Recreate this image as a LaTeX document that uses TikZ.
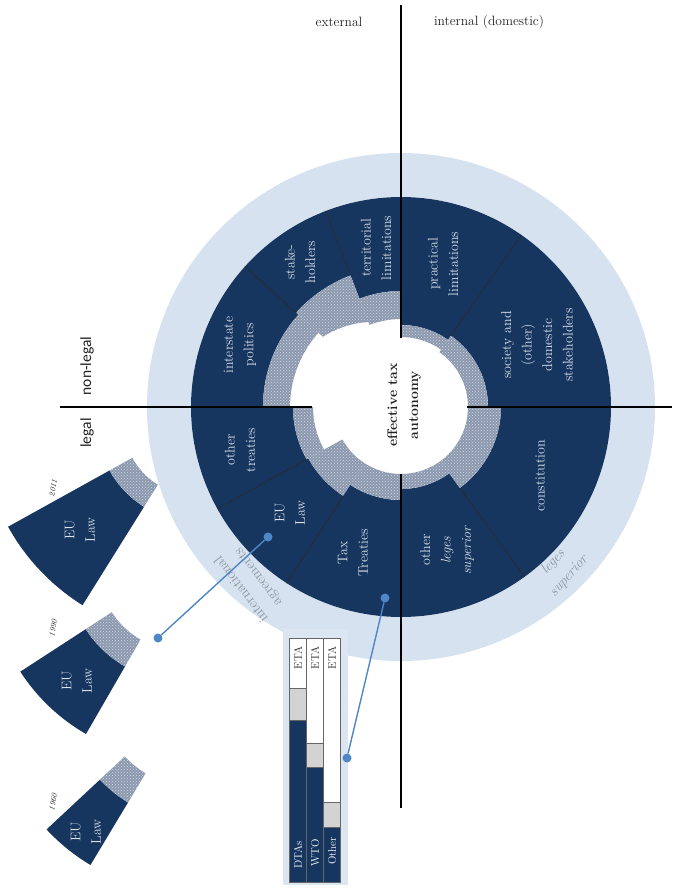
\documentclass[tikz,border=0pt]{standalone}
\usepackage{fontspec}
\newfontfamily\carlito{Carlito}
\usetikzlibrary{patterns}
\definecolor{navy}{HTML}{163660}
\definecolor{ringlight}{HTML}{D6E2F0}
\definecolor{hatchbg}{HTML}{8B98AE}
\definecolor{hatchdot}{HTML}{D2D9E3}
\definecolor{labcol}{HTML}{DCE2EA}
\definecolor{ringtext}{HTML}{8E959F}
\definecolor{conn}{HTML}{4F86C6}
\definecolor{framecol}{HTML}{DCE6F2}
\definecolor{barsgray}{HTML}{D3D3D3}
\definecolor{inktext}{HTML}{222222}
\newcommand\annsec[5]{\fill[#1] (#2:#5pt) arc[start angle=#2,end angle=#3,radius=#5pt] -- (#3:#4pt) arc[start angle=#3,end angle=#2,radius=#4pt] -- cycle;}
\newcommand\hatchsec[4]{\annsec{hatchbg}{#1}{#2}{#3}{#4}\annsec{pattern=crosshatch dots,pattern color=hatchdot}{#1}{#2}{#3}{#4}}
\newcommand\stakepiece[1]{\fill[#1] (111:141pt) arc[start angle=111,end angle=138,radius=141pt] -- plot[domain=138:111,samples=14] (\x:{(91+(\x-111)*14/27)*1pt}) -- cycle;}
\tikzset{
  seclab/.style={text=labcol, align=center, rotate=90, inner sep=0pt, font=\fontsize{14}{20.5}\selectfont},
  ringlab/.style={text=ringtext, align=center, inner sep=0pt, font=\fontsize{14.5}{21}\selectfont},
  toplab/.style={text=inktext, inner sep=0pt, font=\fontsize{13.5}{16}\selectfont},
  sidelab/.style={text=inktext, rotate=90, inner sep=0pt, font=\carlito\fontsize{15.5}{18}\selectfont},
  yearlab/.style={text=inktext, rotate=80, inner sep=0pt, font=\itshape\fontsize{8}{9}\selectfont},
  axisline/.style={line width=2.8pt, black},
  divider/.style={line width=0.6pt, black!85},
  dot/.style={circle, fill=conn, inner sep=0pt, minimum size=9pt},
  connline/.style={conn, line width=1.4pt},
  barlab/.style={rotate=90, inner sep=0pt, font=\fontsize{11}{12}\selectfont},
  barbox/.style={draw=black!60, line width=0.7pt}
}
\begin{document}
\begin{tikzpicture}[x=1pt,y=1pt]
\useasboundingbox (0,0) rectangle (674,-888);
\fill[white] (0,0) rectangle (674,-888);
% main ring
\begin{scope}[shift={(401,-407)}]
  \fill[ringlight] (0,0) circle[radius=254pt];
  \fill[white] (0,0) circle[radius=210pt];
  \foreach \a/\b/\d/\h in {55/90/82/70, 0/55/87/67, 90/111/116/88, 138/180/138/111, 180/209/108/88, 209/237/106/67, 237/270/93/67, 270/306/82/67, 306/360/100/67}{
    \annsec{navy}{\a}{\b}{\d}{210}
    \hatchsec{\a}{\b}{\h}{\d}
  }
  \annsec{navy}{111}{138}{141}{210}
  \stakepiece{hatchbg}
  \stakepiece{pattern=crosshatch dots,pattern color=hatchdot}
  \foreach \a/\r in {55/87, 111/141, 138/141, 209/108, 237/106, 306/100}{
    \draw[divider] (\a:\r pt) -- (\a:210pt);
  }
\end{scope}
% small EU Law wedges
\begin{scope}[shift={(197,-422)}]
  \annsec{navy}{209}{238}{100}{216}
  \hatchsec{209}{238}{74}{100}
\end{scope}
\begin{scope}[shift={(183,-566)}]
  \annsec{navy}{213}{240}{116}{194}
  \hatchsec{213}{240}{85}{116}
\end{scope}
\begin{scope}[shift={(195,-691)}]
  \annsec{navy}{223}{239}{130}{203}
  \hatchsec{223}{239}{96}{130}
\end{scope}
% axes
\coordinate (vt1) at (401,-5);  \coordinate (vt2) at (401,-338);
\coordinate (vb1) at (401,-474); \coordinate (vb2) at (401,-808);
\coordinate (hl1) at (60,-407);  \coordinate (hl2) at (312,-407);
\coordinate (hr1) at (467,-407); \coordinate (hr2) at (672,-407);
\draw[axisline] (vt1) -- (vt2);
\draw[axisline] (vb1) -- (vb2);
\draw[axisline] (hl1) -- (hl2);
\draw[axisline] (hr1) -- (hr2);
% sector labels
\node[seclab] (terr) at (376,-248) {territorial\\limitations};
\node[seclab] (stake) at (300,-262) {stake-\\holders};
\node[seclab] (inter) at (240,-345) {interstate\\politics};
\node[seclab] (pract) at (443,-264) {practical\\limitations};
\node[seclab] (soc) at (537,-345) {society and\\(other)\\domestic\\stakeholders};
\node[seclab] (oth) at (240,-450) {other\\treaties};
\node[seclab] (eu) at (290,-513) {EU\\Law};
\node[seclab] (tax) at (353,-553) {Tax\\Treaties};
\node[seclab] (leg) at (447,-550) {other\\\textit{leges}\\\textit{superior}};
\node[seclab] (const) at (540,-476) {constitution};
\node[rotate=90, align=center, inner sep=0pt, text=inktext, font=\bfseries\fontsize{14}{21}\selectfont] (eta) at (404,-405) {effective tax\\autonomy};
% ring labels
\node[ringlab, rotate=127] (intl) at (250,-583) {international\\agreements};
\node[ringlab, rotate=48, font=\itshape\fontsize{14.5}{21}\selectfont] (lsup) at (561,-569) {leges\\superior};
% outer labels
\node[toplab] (ext) at (339,-22) {external};
\node[toplab] (int) at (489,-22) {internal (domestic)};
\node[sidelab] (nonleg) at (87,-366) {non-legal};
\node[sidelab] (legal) at (87,-433) {legal};
% wedge labels
\node[seclab] (eu11) at (80,-530) {EU\\Law};
\node[seclab] (eu90) at (77,-681) {EU\\Law};
\node[seclab] (eu60) at (86,-832) {EU\\Law};
\node[yearlab] (y11) at (53,-488) {2011};
\node[yearlab] (y90) at (53,-628) {1990};
\node[yearlab] (y60) at (53,-802) {1960};
% table
\fill[framecol] (283,-629) rectangle (348,-885);
\foreach \x/\w/\g in {289/688/720, 306/743/767, 323/802/827}{
  \fill[white] (\x,-638) rectangle ({\x+17},-\w);
  \fill[barsgray] (\x,-\w) rectangle ({\x+17},-\g);
  \fill[navy] (\x,-\g) rectangle ({\x+17},-882);
  \draw[barbox] (\x,-638) rectangle ({\x+17},-882);
  \draw[barbox] (\x,-\w) -- ({\x+17},-\w);
  \draw[barbox] (\x,-\g) -- ({\x+17},-\g);
}
\node[barlab, text=inktext] (eta1) at (298,-658) {ETA};
\node[barlab, text=inktext] (eta2) at (315,-658) {ETA};
\node[barlab, text=inktext] (eta3) at (332,-658) {ETA};
\node[barlab, text=white] (dtas) at (298,-855) {DTAs};
\node[barlab, text=white] (wto) at (315,-853) {WTO};
\node[barlab, text=white] (other) at (332,-851) {Other};
% connectors
\node[dot] (eudot) at (268,-537) {};
\node[dot] (eudot2) at (158,-638) {};
\node[dot] (taxdot) at (385,-598) {};
\node[dot] (taxdot2) at (347,-758) {};
\draw[connline] (eudot) -- (eudot2);
\draw[connline] (taxdot) -- (taxdot2);
\end{tikzpicture}
\end{document}
